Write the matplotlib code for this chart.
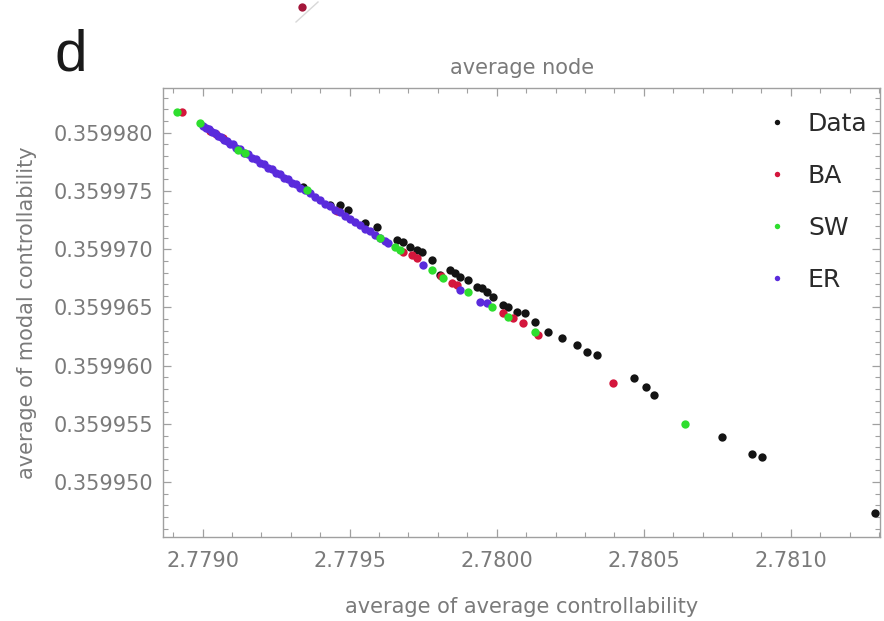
import matplotlib
matplotlib.use("Agg")
import matplotlib.pyplot as plt
from matplotlib.ticker import MultipleLocator, FormatStrFormatter
from matplotlib.lines import Line2D

# ---------------- data ----------------
data_x = [2.779341, 2.779433, 2.779467, 2.779494, 2.779552, 2.779593, 2.779661,
          2.779681, 2.779705, 2.779729, 2.779746, 2.779780, 2.779807, 2.779841,
          2.779858, 2.779875, 2.779902, 2.779933, 2.779950, 2.779967, 2.779987,
          2.780021, 2.780038, 2.780069, 2.780096, 2.780130, 2.780175, 2.780222,
          2.780273, 2.780307, 2.780341, 2.780467, 2.780508, 2.780535, 2.780766,
          2.780868, 2.780902, 2.781287]
data_y = [0.35997536, 0.35997381, 0.35997381, 0.35997338, 0.35997227, 0.35997192,
          0.35997081, 0.35997064, 0.35997021, 0.35996995, 0.35996978, 0.35996909,
          0.35996780, 0.35996823, 0.35996797, 0.35996763, 0.35996737, 0.35996677,
          0.35996668, 0.35996634, 0.35996591, 0.35996522, 0.35996505, 0.35996462,
          0.35996454, 0.35996376, 0.35996290, 0.35996239, 0.35996179, 0.35996119,
          0.35996093, 0.35995895, 0.35995818, 0.35995749, 0.35995388, 0.35995242,
          0.35995217, 0.35994735]

ba_x = [2.778929, 2.779025, 2.779045, 2.779069, 2.779457, 2.779681, 2.779712,
        2.779729, 2.779811, 2.779848, 2.779865, 2.780021, 2.780055, 2.780089,
        2.780140, 2.780396]
ba_y = [0.35998180, 0.35998013, 0.35997991, 0.35997953, 0.35997330, 0.35996978,
        0.35996952, 0.35996926, 0.35996771, 0.35996711, 0.35996694, 0.35996454,
        0.35996411, 0.35996368, 0.35996265, 0.35995852]

sw_x = [2.778914, 2.778991, 2.779120, 2.779144, 2.779355, 2.779603, 2.779654,
        2.779671, 2.779780, 2.779817, 2.779902, 2.779984, 2.780038, 2.780130,
        2.780641]
sw_y = [0.35998180, 0.35998083, 0.35997854, 0.35997826, 0.35997510, 0.35997098,
        0.35997021, 0.35996995, 0.35996823, 0.35996754, 0.35996634, 0.35996505,
        0.35996419, 0.35996290, 0.35995500]

er_x = [2.779001, 2.779011, 2.779021, 2.779032, 2.779042, 2.779052, 2.779062,
        2.779072, 2.779083, 2.779093, 2.779103, 2.779113, 2.779127, 2.779140,
        2.779154, 2.779168, 2.779181, 2.779195, 2.779209, 2.779222, 2.779236,
        2.779249, 2.779263, 2.779277, 2.779290, 2.779304, 2.779317, 2.779331,
        2.779348, 2.779365, 2.779382, 2.779399, 2.779416, 2.779433, 2.779450,
        2.779467, 2.779484, 2.779501, 2.779518, 2.779535, 2.779552, 2.779569,
        2.779586, 2.779603, 2.779620, 2.779630, 2.779749, 2.779875, 2.779943,
        2.779967]
er_y = [0.35998060, 0.35998039, 0.35998032, 0.35998007, 0.35997998, 0.35997972,
        0.35997966, 0.35997941, 0.35997931, 0.35997906, 0.35997900, 0.35997873,
        0.35997863, 0.35997830, 0.35997820, 0.35997787, 0.35997775, 0.35997742,
        0.35997732, 0.35997699, 0.35997687, 0.35997656, 0.35997643, 0.35997612,
        0.35997600, 0.35997569, 0.35997557, 0.35997526, 0.35997506, 0.35997479,
        0.35997448, 0.35997424, 0.35997390, 0.35997370, 0.35997338, 0.35997316,
        0.35997284, 0.35997261, 0.35997231, 0.35997207, 0.35997175, 0.35997153,
        0.35997122, 0.35997098, 0.35997068, 0.35997055, 0.35996866, 0.35996651,
        0.35996548, 0.35996540]

x_range = (2.778866, 2.7813037)
y_range = (0.35994529, 0.35998384)

# ---------------- style ----------------
C_DATA = "#141414"
C_BA = "#d4163c"
C_SW = "#2ede2e"
C_ER = "#5a2bdc"
GRAY = "#7a7a7a"
SPINE = "#a0a0a0"

plt.rcParams["font.family"] = ["DejaVu Sans"]

fig = plt.figure(figsize=(8.84, 6.21), dpi=100)
ax = fig.add_axes([0.1847, 0.1353, 0.8108, 0.7229])

ms = 6.0
ax.plot(data_x, data_y, "o", color=C_DATA, ms=ms, mew=0, label="Data", zorder=3)
ax.plot(ba_x, ba_y, "o", color=C_BA, ms=ms, mew=0, label="BA", zorder=4)
ax.plot(er_x, er_y, "o", color=C_ER, ms=ms, mew=0, label="ER", zorder=5)
ax.plot(sw_x, sw_y, "o", color=C_SW, ms=ms, mew=0, label="SW", zorder=6)

ax.set_xlim(*x_range)
ax.set_ylim(*y_range)

ax.xaxis.set_major_locator(MultipleLocator(0.0005))
ax.xaxis.set_minor_locator(MultipleLocator(0.0001))
ax.yaxis.set_major_locator(MultipleLocator(0.000005))
ax.yaxis.set_minor_locator(MultipleLocator(0.000001))
ax.xaxis.set_major_formatter(FormatStrFormatter("%.4f"))
ax.yaxis.set_major_formatter(FormatStrFormatter("%.6f"))

for s in ax.spines.values():
    s.set_color(SPINE)
    s.set_linewidth(1.0)

ax.tick_params(which="both", direction="in", top=True, right=True,
               color=SPINE, labelcolor=GRAY)
ax.tick_params(which="major", length=6, width=0.9, labelsize=15)
ax.tick_params(which="minor", length=3.5, width=0.8)
ax.tick_params(axis="x", which="major", pad=10)
ax.tick_params(axis="y", which="major", pad=7)

ax.set_xlabel("average of average controllability", color=GRAY, fontsize=15, labelpad=19)
ax.set_ylabel("average of modal controllability", color=GRAY, fontsize=15, labelpad=12)
ax.set_title("average node", color=GRAY, fontsize=15, pad=10)

handles, labels = ax.get_legend_handles_labels()
order = [labels.index(n) for n in ["Data", "BA", "SW", "ER"]]
leg = ax.legend([handles[i] for i in order], [labels[i] for i in order],
                loc="upper right", bbox_to_anchor=(1.0, 0.975), frameon=False,
                fontsize=18, markerscale=0.65, labelspacing=1.12,
                handletextpad=0.75, handlelength=1.0, borderaxespad=0.1)
for t in leg.get_texts():
    t.set_color("#2a2a2a")

fig.text(0.062, 0.887, "d", fontsize=42, color="#1a1a1a", ha="left", va="baseline",
         family=["Liberation Sans", "DejaVu Sans"])

# fragment of the neighbouring panel at the top edge
fig.add_artist(Line2D([302 / 884], [1 - 7 / 621], transform=fig.transFigure,
                      marker="o", ms=6, mew=0, color="#a3163a", linestyle="none"))
fig.add_artist(Line2D([296 / 884, 318 / 884], [1 - 22 / 621, 1 - 2 / 621],
                      transform=fig.transFigure, color="#d8d8d8", lw=1.0))

fig.savefig("out.png", dpi=100)
